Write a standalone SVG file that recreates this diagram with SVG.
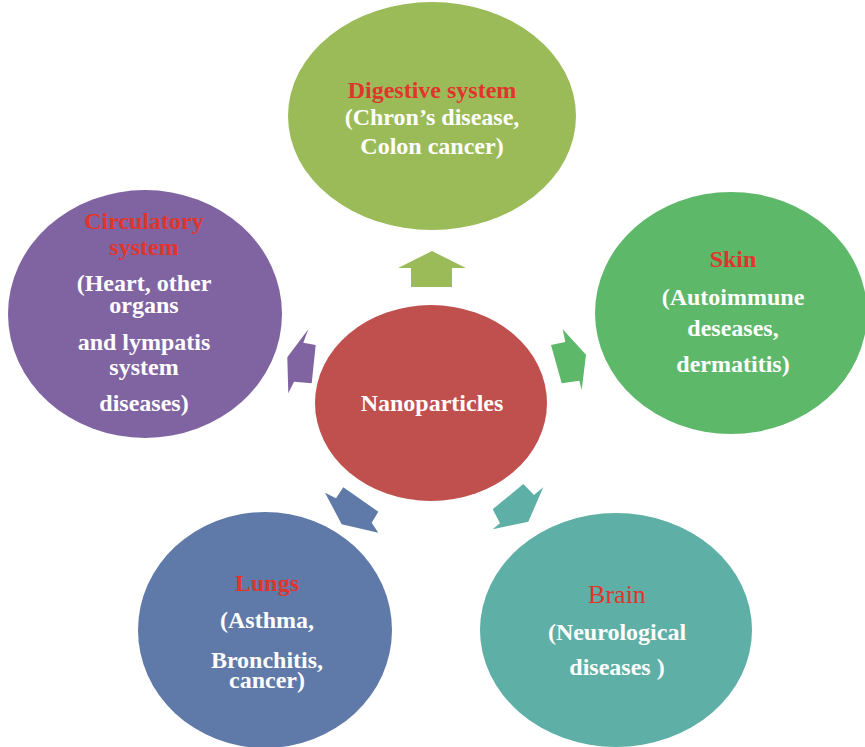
<svg xmlns="http://www.w3.org/2000/svg" width="865" height="747" viewBox="0 0 865 747">
  <style>
    .lbl { font-family: "Liberation Serif", "Times New Roman", serif; font-size: 24px; font-weight: bold; fill: #ffffff; text-anchor: middle; }
    .ttl { fill: #E0352C; }
    .reg { font-weight: normal; font-size: 26px; }
  </style>
  <rect width="865" height="747" fill="#ffffff"/>

  <g id="digestive">
    <ellipse cx="432" cy="116" rx="144" ry="114" fill="#9BBB59"/>
    <text class="lbl ttl" x="432" y="98">Digestive system</text>
    <text class="lbl" x="432" y="125">(Chron’s disease,</text>
    <text class="lbl" x="432" y="154">Colon cancer)</text>
  </g>

  <g id="skin">
    <ellipse cx="731" cy="313" rx="136" ry="121" fill="#5DB86A"/>
    <text class="lbl ttl" x="733" y="267">Skin</text>
    <text class="lbl" x="733" y="305">(Autoimmune</text>
    <text class="lbl" x="733" y="336">deseases,</text>
    <text class="lbl" x="733" y="372">dermatitis)</text>
  </g>

  <g id="circulatory">
    <ellipse cx="145" cy="314" rx="137" ry="124" fill="#8064A2"/>
    <text class="lbl ttl" x="144" y="229">Circulatory</text>
    <text class="lbl ttl" x="144" y="255">system</text>
    <text class="lbl" x="144" y="291">(Heart, other</text>
    <text class="lbl" x="144" y="313">organs</text>
    <text class="lbl" x="144" y="350">and lympatis</text>
    <text class="lbl" x="144" y="375">system</text>
    <text class="lbl" x="144" y="411">diseases)</text>
  </g>

  <g id="lungs">
    <ellipse cx="265" cy="630" rx="127" ry="118" fill="#5F79A8"/>
    <text class="lbl ttl" x="267" y="591">Lungs</text>
    <text class="lbl" x="267" y="628">(Asthma,</text>
    <text class="lbl" x="267" y="668">Bronchitis,</text>
    <text class="lbl" x="267" y="688">cancer)</text>
  </g>

  <g id="brain">
    <ellipse cx="616" cy="630" rx="136" ry="117" fill="#5EAFA6"/>
    <text class="lbl ttl reg" x="617" y="603">Brain</text>
    <text class="lbl" x="617" y="640">(Neurological</text>
    <text class="lbl" x="617" y="675">diseases )</text>
  </g>

  <g id="nanoparticles">
    <ellipse cx="431" cy="403" rx="116" ry="98" fill="#C0504D"/>
    <text class="lbl" x="432" y="411">Nanoparticles</text>
  </g>

  <!-- block arrows pointing from the centre to each system -->
  <g id="connectors">
    <polygon fill="#9BBB59" points="411,287 411,268 398,268 432,251 466,268 452,268 452,287"/>
    <polygon fill="#5DB86A" points="562.7,329.3 565.3,342 551,345 561.7,383.3 579.3,380.7 581.7,390 586,354.7"/>
    <polygon fill="#8064A2" points="308.3,329.3 303.3,342.7 315.7,345 311.7,383.3 294,381.7 288.3,393.3 287.3,357.3"/>
    <polygon fill="#5F79A8" points="325,492.7 336,498.3 343.3,487.3 378.3,511.7 371.7,522.7 378.3,532.7 341.7,524.3"/>
    <polygon fill="#5EAFA6" points="523.3,484 534,495 543.3,487.3 528.3,521.7 492.7,529.3 500,523.3 492.7,509.3"/>
  </g>
</svg>
